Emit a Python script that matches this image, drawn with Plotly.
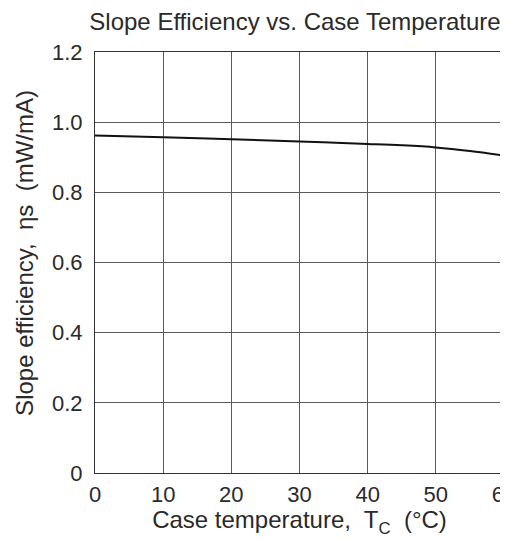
import plotly.graph_objects as go

temperature = [0, 10, 20, 30, 40, 45, 50, 55, 60]
slope_eff = [0.962, 0.957, 0.951, 0.945, 0.938, 0.934, 0.928, 0.918, 0.905]

x_ticks = [0, 10, 20, 30, 40, 50, 60]
y_ticks = [0, 0.2, 0.4, 0.6, 0.8, 1.0, 1.2]
y_tick_text = ["0", "0.2", "0.4", "0.6", "0.8", "1.0", "1.2"]

font_family = "Liberation Sans, Arial, sans-serif"
text_color = "#2a2a2a"
grid_color = "#5a5a5a"

fig = go.Figure()
fig.add_trace(go.Scatter(
    x=temperature, y=slope_eff, mode="lines",
    line=dict(color="#111111", width=2, shape="spline"),
    showlegend=False, hoverinfo="skip",
))

fig.update_layout(
    width=500, height=532,
    margin=dict(l=87, r=4, t=44, b=67, autoexpand=False),
    paper_bgcolor="white", plot_bgcolor="white",
    font=dict(family=font_family, color=text_color),
    title=dict(text="Slope Efficiency vs. Case Temperature",
               x=0.574, xanchor="center", y=0.975, yanchor="middle",
               font=dict(size=24, color=text_color)),
    annotations=[dict(
        text="Slope efficiency,  ηs  (mW/mA)", textangle=-90,
        xref="paper", yref="paper", x=-0.171, y=0.523,
        xanchor="center", yanchor="middle", showarrow=False,
        font=dict(size=24, color=text_color),
    )],
)
fig.update_xaxes(
    range=[0, 60], tickvals=x_ticks, ticks="", showgrid=True,
    gridcolor=grid_color, gridwidth=1, zeroline=False,
    showline=True, linecolor="#333333", linewidth=1.2, mirror=True,
    tickfont=dict(size=22, color=text_color), ticklabelstandoff=1,
    ticklabeloverflow="allow", automargin=False,
    title=dict(text="Case temperature,  T<sub>C</sub>  (°C)", standoff=4,
               font=dict(size=24, color=text_color)),
)
fig.update_yaxes(
    range=[0, 1.2], tickvals=y_ticks, ticktext=y_tick_text, ticks="",
    showgrid=True, gridcolor=grid_color, gridwidth=1, zeroline=False,
    showline=True, linecolor="#333333", linewidth=1.2, mirror=True,
    tickfont=dict(size=22, color=text_color), ticklabelstandoff=7,
    ticklabeloverflow="allow", automargin=False,
)

fig.write_html("out.html")
